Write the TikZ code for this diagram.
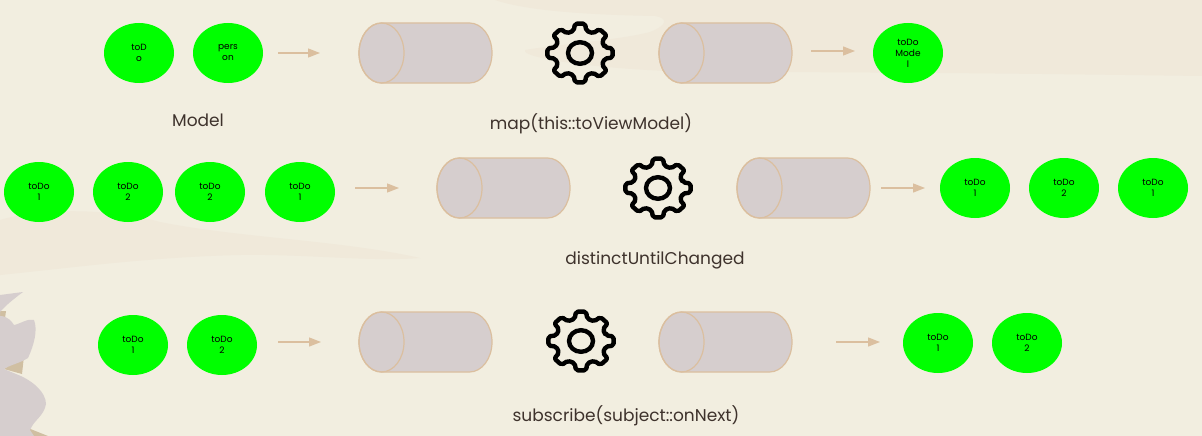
\documentclass[tikz,border=0pt]{standalone}
\usepackage{xcolor}
\usepackage{fontspec}
\setmainfont{Poppins}
\usetikzlibrary{shapes.geometric, arrows.meta}

\definecolor{paper}{HTML}{F2EEE0}
\definecolor{wash}{HTML}{F0E9DA}
\definecolor{blob}{HTML}{D6CECE}
\definecolor{sand}{HTML}{DBBF9F}
\definecolor{darksand}{HTML}{D0BFA2}
\definecolor{ink}{HTML}{3E322C}

\tikzset{
  msg/.style={ellipse, fill=green, minimum width=70pt, minimum height=60pt, inner sep=0pt,
    align=center, font=\fontsize{9}{11}\selectfont},
  flow/.style={draw=sand, line width=1.3pt, -{Triangle[length=12pt, width=9pt]}},
  caption/.style={text=ink, font=\fontsize{17}{20}\selectfont},
  pipeicon/.pic={
    \draw[y=1pt, draw=sand, fill=blob, line width=1.2pt] (-44, 30) -- (44, 30)
      arc[start angle=90, end angle=-90, x radius=22.5, y radius=30] -- (-44, -30)
      arc[start angle=270, end angle=90, x radius=22.5, y radius=30] -- cycle;
    \draw[draw=sand, line width=1.2pt] (-44, 0) ellipse [x radius=22.5, y radius=30];
  },
  gearicon/.pic={
    \draw[yscale=0.9, line width=4.4pt, line join=round, rounded corners=2pt]
      (-14:25.5) \foreach \a in {0, 45, ..., 315} {
        -- (\a-14:25.5) -- (\a-9:33) -- (\a+9:33) -- (\a+14:25.5)
      } -- cycle;
    \draw[yscale=0.9, line width=4.4pt] (0, 0) circle (12);
  }
}

\begin{document}
\begin{tikzpicture}[x=1pt, y=-1pt]
\useasboundingbox[fill=paper] (0, 0) rectangle (1202, 436);

\fill[wash] (495, 0) .. controls (530, 12) and (600, 15) .. (655, 16) .. controls (668, 18) and (668, 25) .. (650, 32)
  .. controls (620, 40) and (560, 44) .. (525, 50) .. controls (520, 58) and (600, 70) .. (700, 72)
  .. controls (900, 72) and (1050, 74) .. (1202, 76) -- (1202, 0) -- cycle;
\fill[wash] (0, 220) .. controls (40, 208) and (110, 208) .. (160, 222) .. controls (240, 238) and (340, 240) .. (420, 258)
  .. controls (370, 262) and (310, 254) .. (240, 255) .. controls (150, 257) and (70, 268) .. (0, 275) -- cycle;
\fill[darksand] (0, 311) -- (6, 311) -- (5, 318) -- (0, 318) -- cycle;
\fill[darksand] (4, 369) -- (24, 356) -- (22, 374) -- cycle;
\fill[darksand] (28, 428) -- (48, 436) -- (24, 436) -- cycle;
\fill[blob] (0, 295) -- (23, 292) .. controls (15, 298) and (6, 305) .. (0, 312) -- (0, 316) .. controls (8, 316) and (12, 322) .. (14, 325)
  .. controls (20, 324) and (28, 318) .. (34, 320) .. controls (38, 330) and (34, 345) .. (28, 358)
  .. controls (20, 363) and (10, 365) .. (4, 369) -- (16, 374) .. controls (32, 380) and (46, 392) .. (46, 404)
  .. controls (44, 416) and (34, 420) .. (30, 430) -- (34, 436) -- (0, 436) -- cycle;

\node[msg] (todoA) at (139, 53) {toD\\o};
\node[msg] (personA) at (228, 53) {pers\\on};
\coordinate (flowAa) at (278, 53);
\coordinate (flowAb) at (320, 53);
\pic (pipeAa) at (425.5, 53) {pipeicon};
\pic (gearA) at (580, 53) {gearicon};
\pic (pipeAb) at (725.5, 53) {pipeicon};
\coordinate (flowAc) at (811, 51);
\coordinate (flowAd) at (855, 51);
\node[msg] (modelA) at (908, 53) {toDo\\Mode\\l};
\node[caption] (labelAa) at (198, 120) {Model};
\node[caption] (labelAb) at (591, 124) {map(this::toViewModel)};

\node[msg] (todoBa) at (39, 192) {toDo\\1};
\node[msg] (todoBb) at (128, 192) {toDo\\2};
\node[msg] (todoBc) at (210, 192) {toDo\\2};
\node[msg] (todoBd) at (300, 192) {toDo\\1};
\coordinate (flowBa) at (355, 188);
\coordinate (flowBb) at (399, 188);
\pic (pipeBa) at (503.5, 188) {pipeicon};
\pic (gearB) at (658, 188) {gearicon};
\pic (pipeBb) at (803.5, 188) {pipeicon};
\coordinate (flowBc) at (881, 188);
\coordinate (flowBd) at (925, 188);
\node[msg] (todoBe) at (975, 188) {toDo\\1};
\node[msg] (todoBf) at (1064, 188) {toDo\\2};
\node[msg] (todoBg) at (1153, 188) {toDo\\1};
\node[caption] (labelB) at (655, 260) {distinctUntilChanged};

\node[msg] (todoCa) at (133, 345) {toDo\\1};
\node[msg] (todoCb) at (222, 345) {toDo\\2};
\coordinate (flowCa) at (278, 342);
\coordinate (flowCb) at (321, 342);
\pic (pipeCa) at (425.5, 342) {pipeicon};
\pic (gearC) at (581, 341) {gearicon};
\pic (pipeCb) at (725.5, 342) {pipeicon};
\coordinate (flowCc) at (836, 342);
\coordinate (flowCd) at (880, 342);
\node[msg] (todoCc) at (938, 343) {toDo\\1};
\node[msg] (todoCd) at (1027, 343) {toDo\\2};
\node[caption] (labelC) at (626, 416) {subscribe(subject::onNext)};

\draw[flow] (flowAa) -- (flowAb);
\draw[flow] (flowAc) -- (flowAd);
\draw[flow] (flowBa) -- (flowBb);
\draw[flow] (flowBc) -- (flowBd);
\draw[flow] (flowCa) -- (flowCb);
\draw[flow] (flowCc) -- (flowCd);
\end{tikzpicture}
\end{document}
